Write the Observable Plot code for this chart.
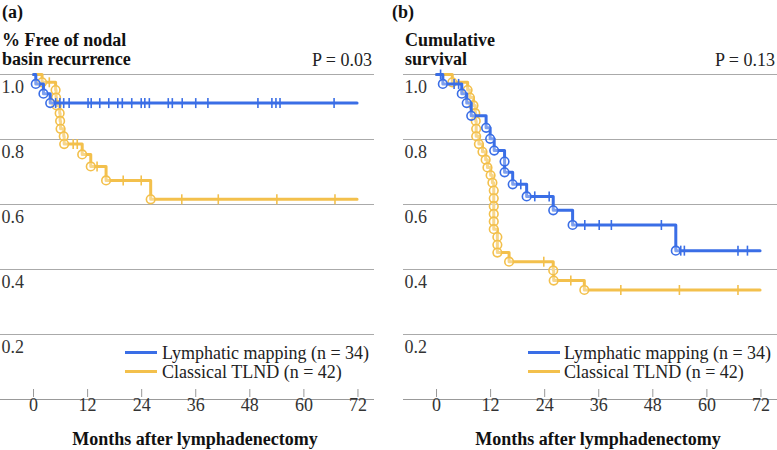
<!DOCTYPE html>
<html><head><meta charset="utf-8">
<script src="https://cdn.jsdelivr.net/npm/d3@7"></script>
<script src="https://cdn.jsdelivr.net/npm/@observablehq/plot@0.6"></script>
<style>
html,body{margin:0;padding:0;background:#fff;}
#chart{position:relative;width:777px;height:450px;overflow:hidden;font-family:"Liberation Serif","Times New Roman",serif;color:#222;}
.t{position:absolute;font-size:18px;line-height:18px;white-space:nowrap;}
.b{font-weight:bold;color:#111;}
.panel{position:absolute;top:0;}
.panel svg text{font-family:"Liberation Serif","Times New Roman",serif;}
.leg{position:absolute;height:3px;width:32px;}
</style></head><body><div id="chart"></div>
<script>
// ---- shared ----
const xTicks = [0, 12, 24, 36, 48, 60, 72];
const yTicks = [0.2, 0.4, 0.6, 0.8, 1.0];
const seriesNames = ["Lymphatic mapping (n = 34)", "Classical TLND (n = 42)"];
const seriesColors = ["#3a6ee6", "#f3c04c"];
const followUpEnd = 71.8;
const xTitle = "Months after lymphadenectomy";
const serif = "Liberation Serif";

// ---- panel (a): free of nodal basin recurrence ----
const aLetter = "(a)";
const aTitle = ["% Free of nodal", "basin recurrence"];
const aP = "P = 0.03";
const aMappingSteps = [[0,1],[0.5,0.971],[2.2,0.941],[3.7,0.912]];
const aMappingCensorT = [4.9,5.85,6.7,7.9,12.1,12.8,14.7,16.7,18.7,19.7,21.8,23.9,24.7,25.7,29.9,30.8,33.0,36.0,38.7,49.8,52.9,53.8,54.7,66.7];
const aTlndSteps = [[0,1],[1.9,0.976],[4.9,0.952],[5.0,0.929],[5.1,0.905],[5.8,0.881],[5.9,0.857],[6.0,0.833],[6.7,0.810],[6.8,0.786],[10.8,0.754],[12.7,0.717],[16.1,0.674],[26.0,0.616]];
const aTlndCensorT = [3.5,8.8,9.7,14.1,19.9,23.9,32.9,41.0,54.0,66.9];

// ---- panel (b): cumulative survival ----
const bLetter = "(b)";
const bTitle = ["Cumulative", "survival"];
const bP = "P = 0.13";
const bMappingSteps = [[0,1],[1.4,0.971],[5.6,0.941],[6.7,0.912],[7.7,0.873],[11.0,0.836],[11.9,0.802],[12.8,0.766],[15.1,0.732],[15.1,0.699],[16.9,0.662],[20.0,0.625],[25.9,0.582],[30.2,0.537],[53.1,0.458]];
const bMappingCensorT = [0.9,3.9,4.9,18.7,21.8,25.0,32.9,36.1,38.8,49.9,54.2,55.0,66.9,69.0];
const bTlndSteps = [[0,1],[3.5,0.976],[6.9,0.952],[7.4,0.929],[8.2,0.905],[8.6,0.881],[8.7,0.857],[8.8,0.833],[8.8,0.810],[9.4,0.786],[10.2,0.762],[10.9,0.738],[11.3,0.714],[12.0,0.690],[12.4,0.667],[12.7,0.643],[12.7,0.619],[12.7,0.595],[12.7,0.571],[12.7,0.548],[12.7,0.524],[13.5,0.500],[13.5,0.476],[13.5,0.452],[16.1,0.424],[25.9,0.397],[26.0,0.366],[32.8,0.337]];
const bTlndCensorT = [23.8,29.8,40.9,53.9,66.9];

// survival value at time t from a step list
function survAt(steps, t) {
  let s = 1;
  for (const [ti, si] of steps) if (ti <= t) s = si;
  return s;
}
const vbar = {draw(ctx, size) { const h = Math.sqrt(size / Math.PI); ctx.moveTo(0, -h); ctx.lineTo(0, h); }};

function makePanel(series) {
  const marks = [
    Plot.ruleY(yTicks, {y: d => d, stroke: "#aaa", strokeWidth: 1}),
    Plot.ruleY([0], {y: d => d, stroke: "#999", strokeWidth: 1}),
    Plot.ruleX(xTicks, {x: d => d, stroke: "#999", strokeWidth: 1, insetTop: 315, insetBottom: 2}),
    Plot.text(yTicks, {frameAnchor: "left", y: d => d, text: d => d.toFixed(1), textAnchor: "start", dx: 1, dy: 13, fill: "#333", fontSize: 18, fontFamily: serif}),
    Plot.text(xTicks, {frameAnchor: "bottom", x: d => d, text: d => String(d), dy: 11, fill: "#333", fontSize: 18, fontFamily: serif})
  ];
  // draw TLND first, mapping on top
  for (const i of [1, 0]) {
    const {steps, censorT} = series[i];
    const color = seriesColors[i];
    const line = steps.map(([t, s]) => ({t, s})).concat([{t: followUpEnd, s: steps[steps.length - 1][1]}]);
    const events = steps.slice(1).map(([t, s]) => ({t, s}));
    const cens = censorT.map(t => ({t, s: survAt(steps, t)}));
    marks.push(
      Plot.line(line, {x: "t", y: "s", stroke: color, strokeWidth: 3, curve: "step-after"}),
      Plot.dot(events, {x: "t", y: "s", r: 4.3, stroke: color, strokeWidth: 1.6, fill: "#fff", fillOpacity: 0.35}),
      Plot.dot(cens, {x: "t", y: "s", r: 5, symbol: vbar, stroke: color, strokeWidth: 1.6, fill: "none"})
    );
  }
  return Plot.plot({
    width: 374, height: 450,
    marginTop: 74, marginBottom: 51, marginLeft: 0, marginRight: 0,
    x: {domain: [-7.33, 75.67], axis: null},
    y: {domain: [0, 1], axis: null},
    style: {fontFamily: serif, fontSize: "18px", background: "transparent", overflow: "visible"},
    marks
  });
}

const chart = document.getElementById("chart");
function addText(txt, cls, css) {
  const d = document.createElement("div");
  d.className = "t " + cls;
  d.textContent = txt;
  Object.assign(d.style, css);
  chart.appendChild(d);
}
function addPanel(left, letterLeft, letter, title, p, pRight, series, legX, legTextX, axisCenter) {
  const svg = makePanel(series);
  const wrap = document.createElement("div");
  wrap.className = "panel";
  wrap.style.left = left + "px";
  wrap.appendChild(svg);
  chart.appendChild(wrap);
  addText(letter, "b", {left: letterLeft + "px", top: "3px"});
  addText(title[0], "b", {left: left + 2 + "px", top: "31px"});
  addText(title[1], "b", {left: left + 2 + "px", top: "50px"});
  addText(p, "", {right: pRight + "px", top: "51px"});
  const legY = [352, 371];
  const legTop = [344, 363];
  for (let i = 0; i < 2; i++) {
    const l = document.createElement("div");
    l.className = "leg";
    Object.assign(l.style, {left: legX + "px", top: (legY[i] - 1.5) + "px", background: seriesColors[i]});
    chart.appendChild(l);
    addText(seriesNames[i], "", {left: legTextX + "px", top: legTop[i] + "px"});
  }
  const at = document.createElement("div");
  at.className = "t b";
  at.textContent = xTitle;
  Object.assign(at.style, {left: (axisCenter - 150) + "px", width: "300px", textAlign: "center", top: "430px"});
  chart.appendChild(at);
}

addPanel(0, 2, aLetter, aTitle, aP, 405,
  [{steps: aMappingSteps, censorT: aMappingCensorT}, {steps: aTlndSteps, censorT: aTlndCensorT}],
  125, 162, 195);
addPanel(403, 392, bLetter, bTitle, bP, 2,
  [{steps: bMappingSteps, censorT: bMappingCensorT}, {steps: bTlndSteps, censorT: bTlndCensorT}],
  528, 564, 598);
</script></body></html>
